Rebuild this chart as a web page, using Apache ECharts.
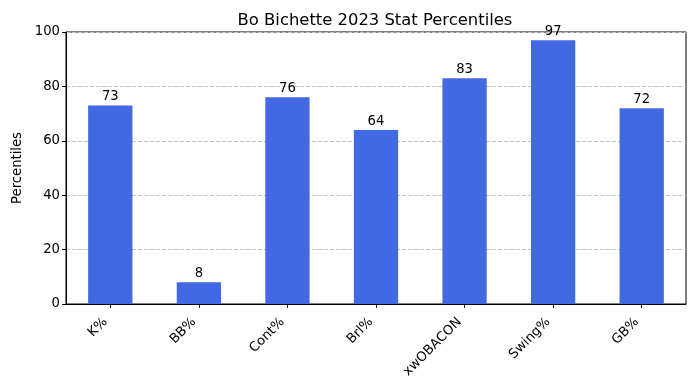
<!DOCTYPE html>
<html>
<head>
<meta charset="utf-8">
<script src="https://cdn.jsdelivr.net/npm/echarts@6/dist/echarts.min.js"></script>
<style>html,body{margin:0;padding:0;background:#fff}#c{width:695px;height:390px}</style>
</head>
<body>
<div id="c"></div>
<script>
const categories = ["K%", "BB%", "Cont%", "Brl%", "xwOBACON", "Swing%", "GB%"];
const percentiles = [73, 8, 76, 64, 83, 97, 72];
const yTicks = [0, 20, 40, 60, 80, 100];

const font = "DejaVu Sans";
const chart = echarts.init(document.getElementById('c'), null, {renderer: 'canvas'});
chart.setOption({
  animation: false,
  backgroundColor: '#ffffff',
  title: {
    text: 'Bo Bichette 2023 Stat Percentiles',
    left: 370, top: 8, textAlign: 'center',
    textStyle: {fontFamily: font, fontSize: 16.4, fontWeight: 'normal', color: '#000'}
  },
  grid: {left: 66, top: 32, width: 620, height: 272, show: true, borderColor: '#000', borderWidth: 1, containLabel: false},
  xAxis: {
    type: 'category', data: categories,
    axisLine: {show: true, lineStyle: {color: '#000', width: 1}},
    axisTick: {show: true, alignWithLabel: true, length: 4, lineStyle: {color: '#000'}},
    axisLabel: {rotate: 45, interval: 0, margin: 11, padding: [0, 7, 0, 0], fontFamily: font, fontSize: 13.2, color: '#000'},
    splitLine: {show: false}
  },
  yAxis: {
    type: 'value', min: 0, max: 100, interval: 20,
    name: 'Percentiles', nameLocation: 'middle', nameGap: 42,
    nameTextStyle: {fontFamily: font, fontSize: 13.2, color: '#000'},
    axisLine: {show: true, lineStyle: {color: '#000', width: 1}},
    axisTick: {show: true, length: 4, lineStyle: {color: '#000'}},
    axisLabel: {margin: 6, fontFamily: font, fontSize: 13.2, color: '#000',
      formatter: v => yTicks.includes(v) ? String(v) : ''},
    splitLine: {show: true, lineStyle: {color: '#c4c4c4', type: [4, 2], width: 1}}
  },
  series: [{
    type: 'bar', data: percentiles, barWidth: '50%',
    itemStyle: {color: '#4169E1'},
    label: {show: true, position: 'top', distance: 2, fontFamily: font, fontSize: 13.2, color: '#000'}
  }]
});
</script>
</body>
</html>
